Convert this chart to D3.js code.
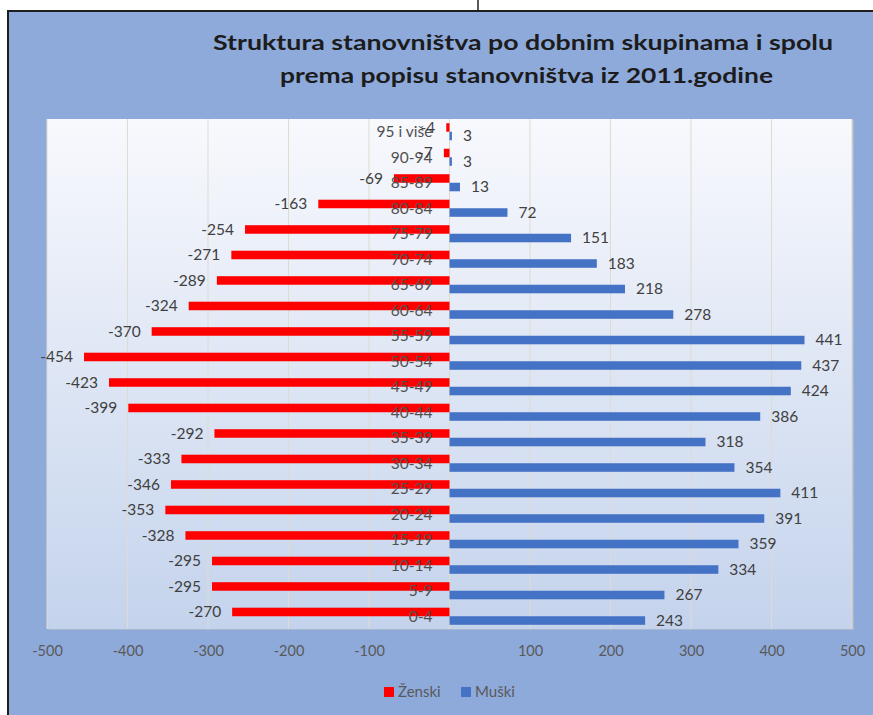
<!DOCTYPE html>
<html>
<head>
<meta charset="utf-8">
<script src="https://cdnjs.cloudflare.com/ajax/libs/d3/7.8.5/d3.min.js"></script>
<style>
  html, body { margin: 0; padding: 0; background: #fff; }
  svg { display: block; }
  text { font-family: Lato, "Open Sans", sans-serif; }
</style>
</head>
<body>
<svg id="chart" width="873" height="715"></svg>
<script>
// ---- data ----
const categories = ["95 i više","90-94","85-89","80-84","75-79","70-74","65-69","60-64","55-59","50-54",
                    "45-49","40-44","35-39","30-34","25-29","20-24","15-19","10-14","5-9","0-4"];
const zenski = [-4,-7,-69,-163,-254,-271,-289,-324,-370,-454,-423,-399,-292,-333,-346,-353,-328,-295,-295,-270];
const muski  = [3,3,13,72,151,183,218,278,441,437,424,386,318,354,411,391,359,334,267,243];
const seriesNames = ["Ženski","Muški"];
const tickValues = [-500,-400,-300,-200,-100,100,200,300,400,500];
const titleLines = ["Struktura stanovništva po dobnim skupinama i spolu","prema popisu stanovništva iz 2011.godine"];

const svg = d3.select("#chart");
const W = 873, H = 715;

// page background
svg.append("rect").attr("width", W).attr("height", H).attr("fill", "#ffffff");
// table border bits at the top
svg.append("line").attr("x1", 478).attr("x2", 478).attr("y1", 0).attr("y2", 11)
   .attr("stroke", "#222").attr("stroke-width", 1.5);

// chart area
svg.append("rect").attr("x", 8).attr("y", 11).attr("width", 900).attr("height", 720)
   .attr("fill", "#8eaadb").attr("stroke", "#1e1e1e").attr("stroke-width", 2);

const plot = {left: 47, right: 852, top: 119, bottom: 629};

const defs = svg.append("defs");
const grad = defs.append("linearGradient").attr("id", "pg").attr("x1", 0).attr("y1", 0).attr("x2", 0).attr("y2", 1);
grad.append("stop").attr("offset", "0%").attr("stop-color", "#f8f9fd");
grad.append("stop").attr("offset", "100%").attr("stop-color", "#c4d3ec");

// plot shadow + plot area
svg.append("rect").attr("x", plot.left + 2).attr("y", plot.top + 1)
   .attr("width", plot.right - plot.left).attr("height", plot.bottom - plot.top)
   .attr("fill", "#a9b7cf");
svg.append("rect").attr("x", plot.left).attr("y", plot.top)
   .attr("width", plot.right - plot.left).attr("height", plot.bottom - plot.top)
   .attr("fill", "url(#pg)");

const x = d3.scaleLinear().domain([-500, 500]).range([plot.left, plot.right]);
const y = d3.scaleBand().domain(categories).range([plot.top, plot.bottom]).paddingInner(0).paddingOuter(0);
const bw = y.bandwidth();
const ys = d3.scaleBand().domain(seriesNames).range([bw * 0.165, bw * 0.835]).paddingInner(0);

// gridlines
svg.append("g").selectAll("line").data(d3.range(-500, 501, 100)).join("line")
   .attr("x1", d => x(d)).attr("x2", d => x(d))
   .attr("y1", plot.top).attr("y2", plot.bottom)
   .attr("stroke", "#dedbd0").attr("stroke-width", 1);

const rows = categories.map((c, i) => ({c, f: zenski[i], m: muski[i]}));

// bars
svg.append("g").selectAll("rect").data(rows).join("rect")
   .attr("x", d => x(d.f)).attr("width", d => x(0) - x(d.f))
   .attr("y", d => y(d.c) + ys("Ženski")).attr("height", ys.bandwidth())
   .attr("fill", "#ff0000");
svg.append("g").selectAll("rect").data(rows).join("rect")
   .attr("x", x(0)).attr("width", d => x(d.m) - x(0))
   .attr("y", d => y(d.c) + ys("Muški")).attr("height", ys.bandwidth())
   .attr("fill", "#4472c4");

// category labels (axis at zero)
svg.append("g").selectAll("text").data(rows).join("text")
   .attr("x", x(0) - 17).attr("y", d => y(d.c) + bw / 2)
   .attr("dy", "0.35em").attr("text-anchor", "end")
   .attr("font-size", 15.5).attr("fill", "#505050")
   .text(d => d.c);

// value labels
svg.append("g").selectAll("text").data(rows).join("text")
   .attr("x", d => x(d.f) - 11).attr("y", d => y(d.c) + ys("Ženski") + ys.bandwidth() / 2)
   .attr("dy", "0.35em").attr("text-anchor", "end")
   .attr("font-size", 15.5).attr("fill", "#404040")
   .text(d => d.f);
svg.append("g").selectAll("text").data(rows).join("text")
   .attr("x", d => x(d.m) + 11).attr("y", d => y(d.c) + ys("Muški") + ys.bandwidth() / 2)
   .attr("dy", "0.35em").attr("text-anchor", "start")
   .attr("font-size", 15.5).attr("fill", "#404040")
   .text(d => d.m);

// x axis tick labels
const axis = d3.axisBottom(x).tickValues(tickValues).tickSize(0).tickPadding(0).tickFormat(d => d);
const gx = svg.append("g").attr("transform", `translate(0,${plot.bottom + 17})`).call(axis);
gx.select(".domain").remove();
gx.selectAll("text").attr("font-family", "Lato, sans-serif").attr("font-size", 14.5).attr("fill", "#595959");

// title
svg.append("g").selectAll("text").data(titleLines).join("text")
   .attr("x", (d, i) => i === 0 ? 523 : 526.5)
   .attr("y", (d, i) => 50 + i * 33)
   .attr("text-anchor", "middle")
   .attr("font-size", 21.5).attr("font-weight", "bold").attr("fill", "#1c1c1c")
   .attr("textLength", (d, i) => i === 0 ? 620 : 493)
   .attr("lengthAdjust", "spacingAndGlyphs")
   .text(d => d);

// legend
const legend = [
  {name: seriesNames[0], color: "#ff0000", x: 384},
  {name: seriesNames[1], color: "#4472c4", x: 461}
];
const lg = svg.append("g").selectAll("g").data(legend).join("g")
   .attr("transform", d => `translate(${d.x},687)`);
lg.append("rect").attr("width", 10).attr("height", 10).attr("fill", d => d.color);
lg.append("text").attr("x", 14).attr("y", 10).attr("font-size", 15).attr("fill", "#595959").text(d => d.name);
</script>
</body>
</html>
